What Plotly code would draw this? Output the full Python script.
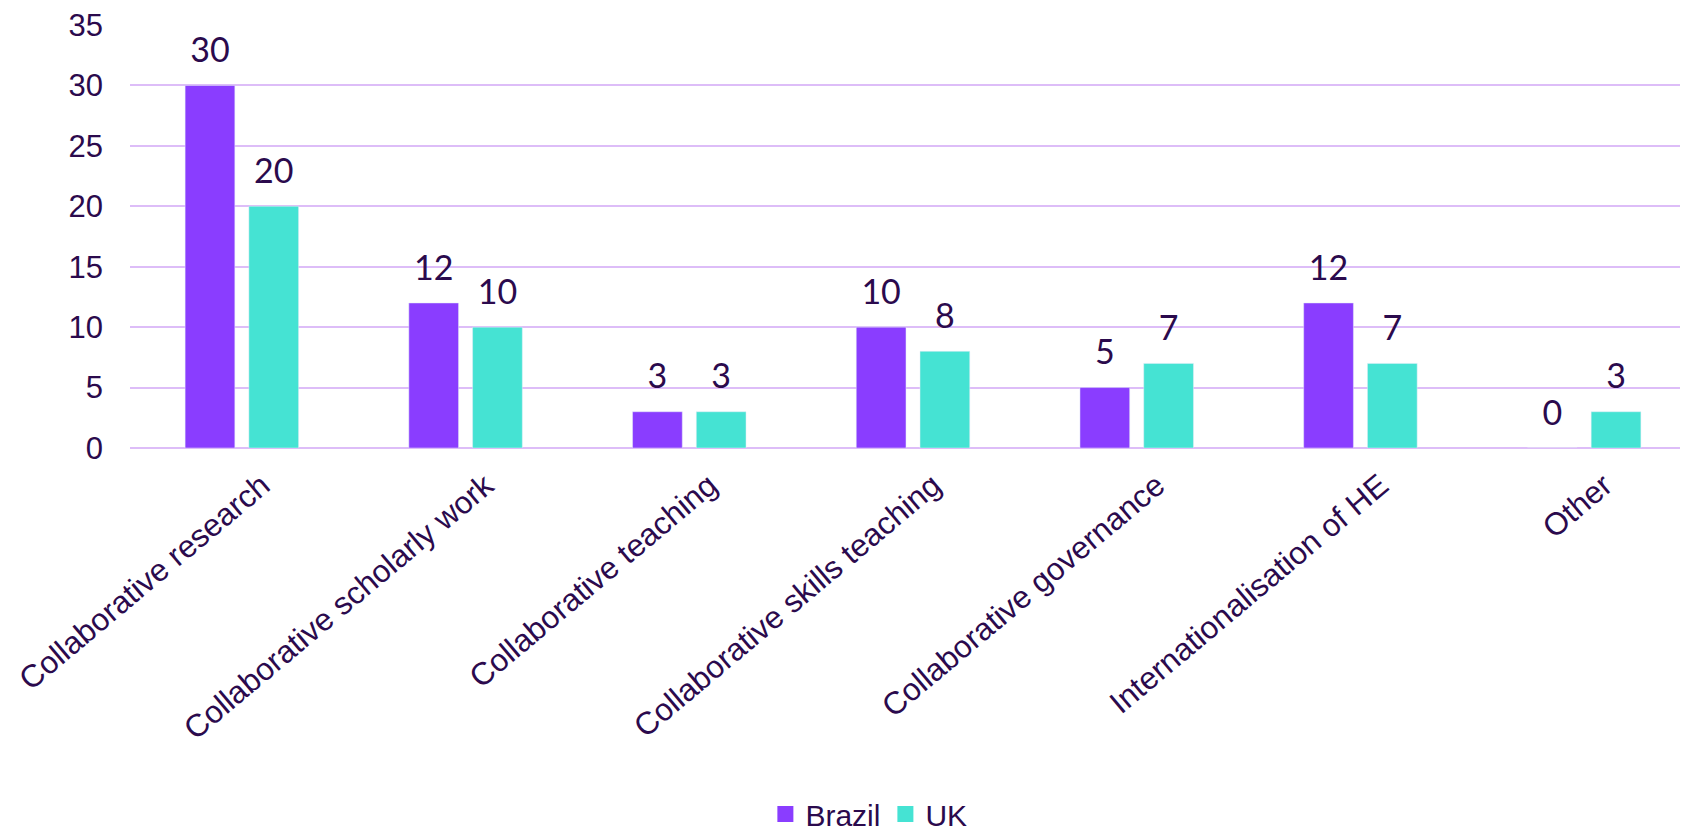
import plotly.graph_objects as go

categories = ["Collaborative research", "Collaborative scholarly work", "Collaborative teaching",
              "Collaborative skills teaching", "Collaborative governance",
              "Internationalisation of HE", "Other"]
brazil = [30, 12, 3, 10, 5, 12, 0]
uk = [20, 10, 3, 8, 7, 7, 3]
series_names = ["Brazil", "UK"]
y_ticks = [0, 5, 10, 15, 20, 25, 30, 35]

TEXT = "#2B0A4D"
GRID = "#DDBDF8"
C_BR = "#8A3DFF"
C_UK = "#45E3D3"
FONT = "Liberation Sans, Arial, sans-serif"
VFONT = "Lato, sans-serif"
GAP = 0.43

fig = go.Figure()
for name, vals, col, grp in [(series_names[0], brazil, C_BR, "br"), (series_names[1], uk, C_UK, "uk")]:
    fig.add_trace(go.Bar(x=categories, y=vals, name=name, marker_color=col,
                         offsetgroup=grp, showlegend=False))
for name, vals, col, grp in [(series_names[0], brazil, C_BR, "br"), (series_names[1], uk, C_UK, "uk")]:
    # value labels above bars (grouped scatter, invisible markers give the gap)
    fig.add_trace(go.Scatter(x=categories, y=vals, mode="markers+text", text=[str(v) for v in vals],
                             textposition="top center", offsetgroup=grp, showlegend=False,
                             marker=dict(size=22, opacity=0),
                             textfont=dict(family=VFONT, size=34, color=TEXT), cliponaxis=False,
                             hoverinfo="skip"))
for name, col in [(series_names[0], C_BR), (series_names[1], C_UK)]:
    # legend entries with square swatches
    fig.add_trace(go.Scatter(x=[None], y=[None], mode="markers", name=name,
                             marker=dict(symbol="square", size=16, color=col)))

fig.update_layout(
    width=1688, height=832,
    margin=dict(l=122, r=0, t=17, b=392),
    plot_bgcolor="white", paper_bgcolor="white",
    barmode="group", bargap=GAP, bargroupgap=0.22,
    scattermode="group", scattergap=GAP,
    font=dict(family=FONT, color=TEXT, size=31),
    showlegend=True,
    legend=dict(orientation="h", xref="container", yref="container", x=0.51, y=0.0,
                xanchor="center", yanchor="bottom", font=dict(family=FONT, size=30, color=TEXT),
                traceorder="normal", itemwidth=30),
)
fig.update_xaxes(tickangle=-40, showgrid=False, showline=False, zeroline=False,
                 tickfont=dict(family=FONT, size=31.5, color=TEXT), automargin=False,
                 ticklabelstandoff=12, ticklabelshift=20)
fig.update_yaxes(range=[0, 35], tickvals=y_ticks, showgrid=True, gridcolor=GRID, gridwidth=2,
                 zeroline=True, zerolinecolor=GRID, zerolinewidth=2, showline=False,
                 tickfont=dict(family=FONT, size=31, color=TEXT), ticklabelstandoff=26,
                 ticklabeloverflow="allow", automargin=False)

fig.write_html("out.html")
